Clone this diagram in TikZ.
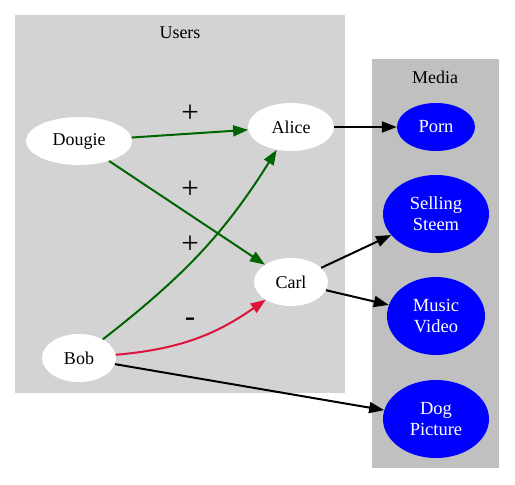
\documentclass[tikz,border=0pt]{standalone}
\usepackage{fontspec}
\setmainfont{Liberation Serif}
\usetikzlibrary{arrows.meta,shapes.geometric}
\definecolor{usersbg}{HTML}{D3D3D3}
\definecolor{mediabg}{HTML}{C0C0C0}
\definecolor{posgreen}{HTML}{006400}
\definecolor{negred}{HTML}{DC143C}
\tikzset{
  user/.style={ellipse, fill=white, inner sep=0pt, font=\fontsize{18}{21}\selectfont},
  media/.style={ellipse, fill=blue, text=white, inner sep=0pt, align=center, font=\fontsize{18.5}{21}\selectfont},
  tipstyle/.style={-{Triangle[length=15pt,width=11pt]}},
  posedge/.style={tipstyle, draw=posgreen, line width=2pt},
  negedge/.style={tipstyle, draw=negred, line width=2pt},
  linkedge/.style={tipstyle, draw=black, line width=2pt},
  sign/.style={font=\fontsize{31}{33}\selectfont, inner sep=0pt},
  clusterlabel/.style={font=\fontsize{18}{21}\selectfont}
}
\begin{document}
\begin{tikzpicture}[x=1pt,y=1pt]
\useasboundingbox (0,0) rectangle (515,485);
\fill[usersbg] (15,92) rectangle (345,470);
\fill[mediabg] (372,17) rectangle (499,426);
\node[clusterlabel] (userslbl) at (180,452) {Users};
\node[clusterlabel] (medialbl) at (435,408) {Media};

\node[user, minimum width=106pt, minimum height=48pt] (dougie) at (79,344) {Dougie};
\node[user, minimum width=86pt, minimum height=48pt] (alice) at (291,358) {Alice};
\node[user, minimum width=74pt, minimum height=48pt] (carl) at (291,203) {Carl};
\node[user, minimum width=74pt, minimum height=48pt] (bob) at (79,127) {Bob};

\node[media, minimum width=78pt, minimum height=48pt] (porn) at (436,358) {Porn};
\node[media, minimum width=106pt, minimum height=78pt] (selling) at (436,271) {Selling\\Steem};
\node[media, minimum width=98pt, minimum height=78pt] (music) at (436,169) {Music\\Video};
\node[media, minimum width=106pt, minimum height=78pt] (dog) at (436,66) {Dog\\Picture};

\draw[posedge] (dougie) -- (alice);
\draw[posedge] (dougie) -- (carl);
\draw[posedge] (bob) to[out=38,in=238] (alice);
\draw[negedge] (bob) to[out=5,in=215] (carl);
\draw[linkedge] (alice) -- (porn);
\draw[linkedge] (carl) -- (selling);
\draw[linkedge] (carl) -- (music);
\draw[linkedge] (bob) -- (dog);

\node[sign] (s1) at (190,371) {+};
\node[sign] (s2) at (190,295) {+};
\node[sign] (s3) at (190,240) {+};
\node[sign] (s4) at (190,163) {-};
\end{tikzpicture}
\end{document}
